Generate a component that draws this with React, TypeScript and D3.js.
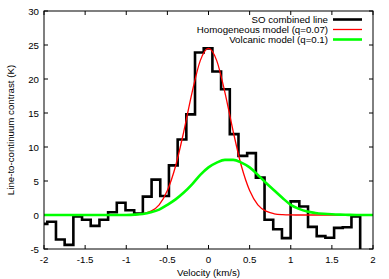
import React from "react";
import * as d3 from "d3";

// SO combined spectrum, one value per velocity channel (km/s, K)
const channelVelocity = [
  -2.013, -1.907, -1.802, -1.696, -1.59, -1.485, -1.379, -1.273, -1.168, -1.062,
  -0.956, -0.851, -0.745, -0.639, -0.534, -0.428, -0.322, -0.217, -0.111, -0.005,
  0.1, 0.206, 0.312, 0.417, 0.523, 0.629, 0.734, 0.84, 0.946, 1.051,
  1.157, 1.263, 1.368, 1.474, 1.58, 1.685, 1.791, 1.897,
];
const soCombined = [
  -1.3, -1.0, -3.6, -4.4, -0.2, -0.7, -1.6, -0.7, 0.4, 1.8,
  0.7, 0.2, 2.7, 5.2, 2.8, 7.3, 11.1, 14.8, 23.9, 24.5,
  21.1, 18.5, 11.9, 8.7, 9.1, 5.5, -0.7, -2.1, -3.4, 2.0,
  1.25, -1.75, -3.1, -3.35, -1.9, -1.8, -0.2, -7,
];

const modelVelocity = [
  -2.0, -1.9, -1.8, -1.7, -1.6, -1.5, -1.4, -1.3, -1.2, -1.1,
  -1.0, -0.9, -0.8, -0.7, -0.6, -0.5, -0.4, -0.3, -0.2, -0.1,
  0.0, 0.1, 0.2, 0.3, 0.4, 0.5, 0.6, 0.7, 0.8, 0.9,
  1.0, 1.1, 1.2, 1.3, 1.4, 1.5, 1.6, 1.7, 1.8, 1.9, 2.0,
];
const homogeneousModel = [
  0, 0, 0, 0, 0, 0, 0, 0, 0, 0,
  0.01, 0.05, 0.18, 0.56, 1.5, 3.6, 7.2, 12.3, 18.0, 22.7,
  24.5, 22.7, 18.0, 12.3, 7.2, 3.6, 1.5, 0.56, 0.18, 0.05,
  0.01, 0, 0, 0, 0, 0, 0, 0, 0, 0, 0,
];
const volcanicModel = [
  0, 0, 0, 0, 0, 0, 0, 0, 0, 0,
  0.01, 0.05, 0.15, 0.4, 0.8, 1.5, 2.3, 3.3, 4.5, 5.9,
  7.0, 7.7, 8.1, 8.1, 7.7, 7.0, 5.9, 4.7, 3.6, 2.5,
  1.5, 0.9, 0.5, 0.3, 0.18, 0.1, 0.05, 0.02, 0, 0, 0,
];

const xTicks = [-2, -1.5, -1, -0.5, 0, 0.5, 1, 1.5, 2];
const yTicks = [-5, 0, 5, 10, 15, 20, 25, 30];

const legendItems = [
  { label: "SO combined line", color: "#000000", width: 2.6 },
  { label: "Homogeneous model (q=0.07)", color: "#ff0000", width: 1.3 },
  { label: "Volcanic model (q=0.1)", color: "#00ff00", width: 2.6 },
];

const W = 389;
const H = 279;
const margin = { left: 44, right: 16, top: 11, bottom: 30 };

export default function App() {
  const x = d3.scaleLinear().domain([-2, 2]).range([margin.left, W - margin.right]);
  const y = d3.scaleLinear().domain([-5, 30]).range([H - margin.bottom, margin.top]);

  const stepLine = d3
    .line<number>()
    .x((_, i) => x(channelVelocity[i]))
    .y((d) => y(d))
    .curve(d3.curveStep);

  const smoothLine = d3
    .line<number>()
    .x((_, i) => x(modelVelocity[i]))
    .y((d) => y(d))
    .curve(d3.curveMonotoneX);

  const x0 = margin.left;
  const x1 = W - margin.right;
  const y0 = H - margin.bottom;
  const y1 = margin.top;
  const tick = 4;
  const font = "'Liberation Sans', Arial, sans-serif";

  return (
    <svg
      width={W}
      height={H}
      style={{ position: "absolute", left: 0, top: 0, background: "#fff" }}
      fontFamily={font}
      fontSize={9.7}
    >
      <defs>
        <clipPath id="plot-area">
          <rect x={x0} y={y1} width={x1 - x0} height={y0 - y1} />
        </clipPath>
      </defs>

      {/* ticks, mirrored on all four sides */}
      {xTicks.map((t) => (
        <g key={"x" + t} stroke="#000" strokeWidth={1}>
          <line x1={x(t)} x2={x(t)} y1={y0} y2={y0 - tick} />
          <line x1={x(t)} x2={x(t)} y1={y1} y2={y1 + tick} />
        </g>
      ))}
      {yTicks.map((t) => (
        <g key={"y" + t} stroke="#000" strokeWidth={1}>
          <line x1={x0} x2={x0 + tick} y1={y(t)} y2={y(t)} />
          <line x1={x1} x2={x1 - tick} y1={y(t)} y2={y(t)} />
        </g>
      ))}

      {/* tick labels */}
      {xTicks.map((t) => (
        <text key={"xl" + t} x={x(t)} y={y0 + 14} textAnchor="middle" fill="#000">
          {t}
        </text>
      ))}
      {yTicks.map((t) => (
        <text key={"yl" + t} x={x0 - 5} y={y(t) + 3.5} textAnchor="end" fill="#000">
          {t}
        </text>
      ))}

      {/* axis titles */}
      <text x={(x0 + x1) / 2} y={H - 3} textAnchor="middle" fill="#000">
        Velocity (km/s)
      </text>
      <text
        transform={`translate(14, ${(y0 + y1) / 2}) rotate(-90)`}
        textAnchor="middle"
        fill="#000"
      >
        Line-to-continuum contrast (K)
      </text>

      {/* data */}
      <g clipPath="url(#plot-area)" fill="none">
        <path d={stepLine(soCombined) || ""} stroke="#000" strokeWidth={2.6} />
        <path d={smoothLine(homogeneousModel) || ""} stroke="#ff0000" strokeWidth={1.3} />
        <path d={smoothLine(volcanicModel) || ""} stroke="#00ff00" strokeWidth={2.6} />
      </g>

      {/* legend */}
      {legendItems.map((item, i) => {
        const ly = 19.5 + i * 10;
        return (
          <g key={item.label}>
            <text x={328} y={ly + 3.3} textAnchor="end" fill="#000">
              {item.label}
            </text>
            <line x1={333} x2={362} y1={ly} y2={ly} stroke={item.color} strokeWidth={item.width} />
          </g>
        );
      })}

      {/* frame */}
      <rect x={x0} y={y1} width={x1 - x0} height={y0 - y1} fill="none" stroke="#000" strokeWidth={1} />
    </svg>
  );
}
